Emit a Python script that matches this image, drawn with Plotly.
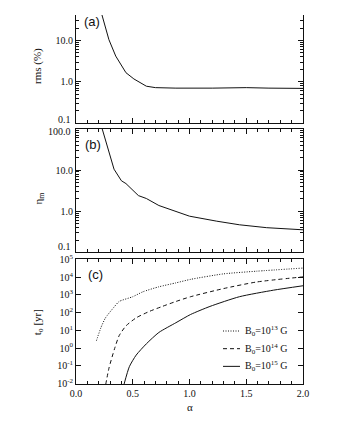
import plotly.graph_objects as go

# panel (a): rms deviation vs alpha
alpha_a = [0.20, 0.25, 0.29, 0.35, 0.40, 0.44, 0.51, 0.62, 0.70, 0.88, 1.20, 1.50, 1.70, 2.00]
rms = [80.0, 25.7, 10.5, 4.2, 2.4, 1.66, 1.17, 0.78, 0.72, 0.70, 0.70, 0.72, 0.70, 0.69]

# panel (b): eta_m vs alpha
alpha_b = [0.22, 0.265, 0.29, 0.335, 0.40, 0.44, 0.55, 0.62, 0.73, 0.88, 1.00, 1.24, 1.44, 1.68, 1.89, 2.00]
eta_m = [126.0, 46.8, 26.9, 10.5, 5.5, 4.7, 2.4, 2.04, 1.38, 1.0, 0.76, 0.575, 0.47, 0.40, 0.37, 0.355]

# panel (c): t_o [yr] for three field strengths
alpha_13 = [0.18, 0.22, 0.26, 0.34, 0.38, 0.50, 0.59, 0.73, 0.88, 1.01, 1.30, 1.59, 2.00]
t_13 = [2.6, 14.5, 51, 224, 427, 794, 1510, 2880, 4790, 7590, 15500, 21900, 33000]
alpha_14 = [0.262, 0.29, 0.34, 0.38, 0.44, 0.53, 0.65, 0.76, 0.88, 1.01, 1.30, 1.59, 2.00]
t_14 = [0.0089, 0.072, 0.93, 5.0, 17.8, 51, 120, 224, 427, 794, 2290, 5370, 10500]
alpha_15 = [0.423, 0.47, 0.53, 0.62, 0.73, 0.88, 1.01, 1.18, 1.44, 1.74, 2.00]
t_15 = [0.0089, 0.089, 0.40, 1.74, 7.6, 26.9, 79, 224, 794, 1860, 3300]

legend_labels = ["B<sub>0</sub>=10<sup>13</sup> G", "B<sub>0</sub>=10<sup>14</sup> G", "B<sub>0</sub>=10<sup>15</sup> G"]
dashes = ["1px,1.5px", "4px,3px", "solid"]

SERIF = "Liberation Serif, DejaVu Serif, serif"
SANS = "Liberation Sans, Arial, sans-serif"
INK = "#111111"

fig = go.Figure()
line = dict(color=INK, width=1)
fig.add_trace(go.Scatter(x=alpha_a, y=rms, mode="lines", line=line, xaxis="x", yaxis="y", showlegend=False))
fig.add_trace(go.Scatter(x=alpha_b, y=eta_m, mode="lines", line=line, xaxis="x2", yaxis="y2", showlegend=False))
for xs, ys, dash in [(alpha_13, t_13, dashes[0]), (alpha_14, t_14, dashes[1]), (alpha_15, t_15, dashes[2])]:
    fig.add_trace(go.Scatter(x=xs, y=ys, mode="lines",
                             line=dict(color=INK, width=1, dash=dash, shape="spline", smoothing=0.6),
                             xaxis="x3", yaxis="y3", showlegend=False))

minor_log = [m * 10 ** e for e in range(-1, 2) for m in range(2, 10)]
tick_font = dict(family=SERIF, size=10, color=INK)


def xaxis(anchor, labels, top):
    return dict(
        anchor=anchor, range=[0, 2], showline=True, linecolor=INK, linewidth=1,
        mirror="ticks" if top else False, ticks="inside", ticklen=5, tickcolor=INK,
        tickvals=[0, 0.5, 1.0, 1.5, 2.0], ticktext=["0.0", "0.5", "1.0", "1.5", "2.0"],
        showticklabels=labels, tickfont=tick_font, showgrid=False, zeroline=False,
        minor=dict(dtick=0.1, ticks="inside", ticklen=3, tickcolor=INK, showgrid=False),
    )


def log_yaxis(anchor, domain, rng, vals, texts, minor=True):
    ax = dict(
        anchor=anchor, domain=domain, type="log", range=rng, showline=True, linecolor=INK,
        linewidth=1, mirror="ticks", ticks="inside", ticklen=5, tickcolor=INK,
        tickvals=vals, ticktext=texts, tickfont=tick_font, showgrid=False, zeroline=False,
    )
    if minor:
        ax["minor"] = dict(tickmode="array", tickvals=minor_log, ticks="inside", ticklen=3,
                           tickcolor=INK, showgrid=False)
    return ax


c_vals = [10 ** e for e in range(-2, 6)]
c_text = [f"10<sup>{e}</sup>" for e in range(-2, 6)]

# the page adds an 8px body margin, so the figure is laid out 8px smaller
fig.update_layout(
    width=324, height=424,
    margin=dict(l=68, r=29, t=0, b=48),
    paper_bgcolor="white", plot_bgcolor="white",
    showlegend=False,
    xaxis=xaxis("y", False, False),
    xaxis2=xaxis("y2", False, True),
    xaxis3=xaxis("y3", True, True),
    yaxis=log_yaxis("x", [0.7074, 1.0], [-1, 1.62], [0.1, 1, 10], ["", "1.0", "10.0"]),
    yaxis2=log_yaxis("x2", [0.3564, 0.6915], [-1, 2], [0.1, 1, 10, 100], ["", "1.0", "10.0", ""]),
    yaxis3=log_yaxis("x3", [0.0, 0.3378], [-2.03, 5.01], c_vals, c_text, minor=False),
)

ann = []
# edge tick labels nudged off the neighbouring panel
for txt, yref, yv, shift in [("0.1", "y", -1, 3), ("100.0", "y2", 2, -3), ("0.1", "y2", -1, 6)]:
    ann.append(dict(text=txt, x=0, y=yv, xref="paper", yref=yref, xanchor="right", yanchor="middle",
                    xshift=-3, yshift=shift, showarrow=False, font=tick_font))
for txt, x, y in [("(a)", 0.026, 0.9814), ("(b)", 0.030, 0.649), ("(c)", 0.044, 0.2979)]:
    ann.append(dict(text=txt, x=x, y=y, xref="paper", yref="paper", xanchor="left", yanchor="middle",
                    showarrow=False, font=dict(family=SANS, size=13, color=INK)))
for txt, y in [("rms (%)", 0.862), ("η<sub>m</sub>", 0.5027), ("t<sub>o</sub> [yr]", 0.1676)]:
    ann.append(dict(text=txt, x=-0.167, y=y, xref="paper", yref="paper", textangle=-90,
                    xanchor="center", yanchor="middle", showarrow=False,
                    font=dict(family=SERIF, size=11, color=INK)))
ann.append(dict(text="α", x=0.5, y=-0.0612, xref="paper", yref="paper", showarrow=False,
                xanchor="center", yanchor="middle", font=dict(family=SERIF, size=11, color=INK)))

shapes = []
for i, (lab, dash) in enumerate(zip(legend_labels, dashes)):
    ly = 0.1436 - i * 0.0479
    shapes.append(dict(type="line", xref="paper", yref="paper", x0=0.6476, x1=0.7225, y0=ly, y1=ly,
                       line=dict(color=INK, width=1, dash=dash)))
    ann.append(dict(text=lab, x=0.7357, y=ly, xref="paper", yref="paper", xanchor="left", yanchor="middle",
                    showarrow=False, font=dict(family=SERIF, size=10, color=INK)))

fig.update_layout(annotations=ann, shapes=shapes)
fig.write_html("out.html")
